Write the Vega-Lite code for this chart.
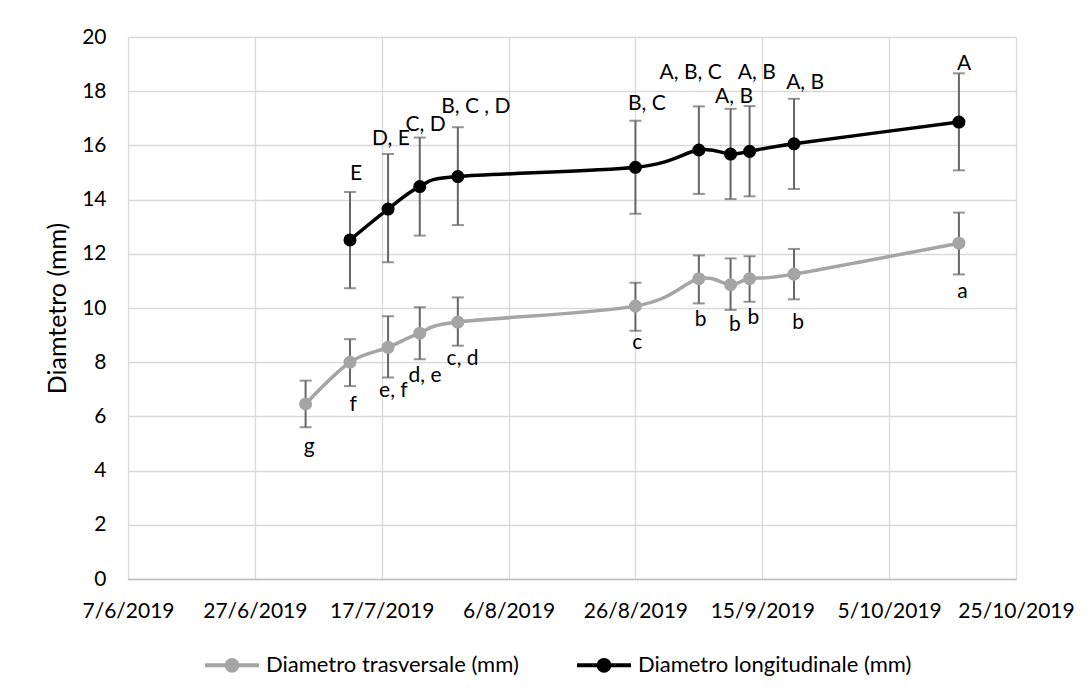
{
  "$schema": "https://vega.github.io/schema/vega-lite/v6.json",
  "width": 888,
  "height": 542,
  "autosize": {"type": "none"},
  "padding": {"left": 128, "top": 37, "right": 75, "bottom": 118},
  "background": "#ffffff",
  "config": {
    "font": "Lato",
    "view": {"stroke": null},
    "axis": {"labelFont": "Lato", "titleFont": "Lato", "labelColor": "#000000", "titleColor": "#000000"}
  },
  "data": {
    "values": [
      {"date": "2019-07-05T00:00", "series": "Diametro trasversale (mm)", "value": 6.46, "lo": 5.6, "hi": 7.32, "label": "g", "labelDate": "2019-07-05T14:00", "labelValue": 4.88},
      {"date": "2019-07-12T00:00", "series": "Diametro trasversale (mm)", "value": 8.0, "lo": 7.12, "hi": 8.85, "label": "f", "labelDate": "2019-07-12T12:00", "labelValue": 6.42},
      {"date": "2019-07-18T00:00", "series": "Diametro trasversale (mm)", "value": 8.55, "lo": 7.44, "hi": 9.7, "label": "e, f", "labelDate": "2019-07-18T20:00", "labelValue": 6.95},
      {"date": "2019-07-23T00:00", "series": "Diametro trasversale (mm)", "value": 9.07, "lo": 8.11, "hi": 10.03, "label": "d, e", "labelDate": "2019-07-23T20:00", "labelValue": 7.49},
      {"date": "2019-07-29T00:00", "series": "Diametro trasversale (mm)", "value": 9.48, "lo": 8.61, "hi": 10.39, "label": "c, d", "labelDate": "2019-07-29T18:00", "labelValue": 8.11},
      {"date": "2019-08-26T00:00", "series": "Diametro trasversale (mm)", "value": 10.07, "lo": 9.16, "hi": 10.93, "label": "c", "labelDate": "2019-08-26T07:00", "labelValue": 8.72},
      {"date": "2019-09-05T00:00", "series": "Diametro trasversale (mm)", "value": 11.08, "lo": 10.17, "hi": 11.94, "label": "b", "labelDate": "2019-09-05T07:00", "labelValue": 9.56},
      {"date": "2019-09-10T00:00", "series": "Diametro trasversale (mm)", "value": 10.86, "lo": 9.93, "hi": 11.83, "label": "b", "labelDate": "2019-09-10T16:00", "labelValue": 9.37},
      {"date": "2019-09-13T00:00", "series": "Diametro trasversale (mm)", "value": 11.08, "lo": 10.23, "hi": 11.91, "label": "b", "labelDate": "2019-09-13T14:00", "labelValue": 9.62},
      {"date": "2019-09-20T00:00", "series": "Diametro trasversale (mm)", "value": 11.25, "lo": 10.32, "hi": 12.18, "label": "b", "labelDate": "2019-09-20T16:00", "labelValue": 9.46},
      {"date": "2019-10-16T00:00", "series": "Diametro trasversale (mm)", "value": 12.39, "lo": 11.24, "hi": 13.52, "label": "a", "labelDate": "2019-10-16T13:00", "labelValue": 10.6},
      {"date": "2019-07-12T00:00", "series": "Diametro longitudinale (mm)", "value": 12.51, "lo": 10.73, "hi": 14.28, "label": "E", "labelDate": "2019-07-12T23:00", "labelValue": 14.94},
      {"date": "2019-07-18T00:00", "series": "Diametro longitudinale (mm)", "value": 13.65, "lo": 11.69, "hi": 15.68, "label": "D, E", "labelDate": "2019-07-18T11:00", "labelValue": 16.24},
      {"date": "2019-07-23T00:00", "series": "Diametro longitudinale (mm)", "value": 14.48, "lo": 12.67, "hi": 16.29, "label": "C, D", "labelDate": "2019-07-23T22:00", "labelValue": 16.75},
      {"date": "2019-07-29T00:00", "series": "Diametro longitudinale (mm)", "value": 14.85, "lo": 13.06, "hi": 16.67, "label": "B, C , D", "labelDate": "2019-07-31T20:00", "labelValue": 17.4},
      {"date": "2019-08-26T00:00", "series": "Diametro longitudinale (mm)", "value": 15.19, "lo": 13.48, "hi": 16.91, "label": "B, C", "labelDate": "2019-08-27T19:00", "labelValue": 17.53},
      {"date": "2019-09-05T00:00", "series": "Diametro longitudinale (mm)", "value": 15.83, "lo": 14.21, "hi": 17.44, "label": "A, B, C", "labelDate": "2019-09-03T17:00", "labelValue": 18.68},
      {"date": "2019-09-10T00:00", "series": "Diametro longitudinale (mm)", "value": 15.68, "lo": 14.02, "hi": 17.35, "label": "A, B", "labelDate": "2019-09-10T13:00", "labelValue": 17.77},
      {"date": "2019-09-13T00:00", "series": "Diametro longitudinale (mm)", "value": 15.78, "lo": 14.12, "hi": 17.45, "label": "A, B", "labelDate": "2019-09-14T03:00", "labelValue": 18.68},
      {"date": "2019-09-20T00:00", "series": "Diametro longitudinale (mm)", "value": 16.06, "lo": 14.39, "hi": 17.72, "label": "A, B", "labelDate": "2019-09-21T18:00", "labelValue": 18.31},
      {"date": "2019-10-16T00:00", "series": "Diametro longitudinale (mm)", "value": 16.86, "lo": 15.08, "hi": 18.66, "label": "A", "labelDate": "2019-10-16T20:00", "labelValue": 19.0}
    ]
  },
  "encoding": {
    "x": {
      "field": "date",
      "type": "temporal",
      "scale": {"domain": [{"year": 2019, "month": 6, "date": 7}, {"year": 2019, "month": 10, "date": 25}]},
      "axis": {
        "title": null,
        "values": [
          {"year": 2019, "month": 6, "date": 7},
          {"year": 2019, "month": 6, "date": 27},
          {"year": 2019, "month": 7, "date": 17},
          {"year": 2019, "month": 8, "date": 6},
          {"year": 2019, "month": 8, "date": 26},
          {"year": 2019, "month": 9, "date": 15},
          {"year": 2019, "month": 10, "date": 5},
          {"year": 2019, "month": 10, "date": 25}
        ],
        "format": "%-d/%-m/%Y",
        "labelFontSize": 21,
        "labelPadding": 21,
        "labelFlush": false,
        "labelOverlap": false,
        "ticks": false,
        "grid": true,
        "gridColor": "#d9d9d9",
        "gridWidth": 1.3,
        "domainColor": "#bfbfbf",
        "domainWidth": 1.5
      }
    }
  },
  "layer": [
    {
      "mark": {"type": "errorbar", "ticks": {"size": 12, "thickness": 2, "color": "#666666"}, "color": "#666666", "thickness": 2},
      "encoding": {
        "y": {"field": "lo", "type": "quantitative", "scale": {"domain": [0, 20]},
          "axis": {
            "title": "Diamtetro (mm)",
            "titleFontSize": 25,
            "titleFontWeight": "normal",
            "titleX": -58,
            "titleY": 271,
            "titleAngle": -90,
            "titleAlign": "center",
            "titleBaseline": "bottom",
            "values": [0, 2, 4, 6, 8, 10, 12, 14, 16, 18, 20],
            "labelFontSize": 21,
            "labelPadding": 22,
            "ticks": false,
            "domain": false,
            "grid": true,
            "gridColor": "#d9d9d9",
            "gridWidth": 1.3
          }
        },
        "y2": {"field": "hi"}
      }
    },
    {
      "mark": {"type": "line", "interpolate": "cardinal", "strokeWidth": 3.5},
      "encoding": {
        "y": {"field": "value", "type": "quantitative"},
        "color": {
          "field": "series",
          "type": "nominal",
          "sort": ["Diametro trasversale (mm)", "Diametro longitudinale (mm)"],
          "scale": {"domain": ["Diametro trasversale (mm)", "Diametro longitudinale (mm)"], "range": ["#a5a5a5", "#000000"]},
          "legend": {
            "title": null,
            "orient": "none",
            "legendX": 75,
            "legendY": 599,
            "padding": 0,
            "direction": "horizontal",
            "symbolType": "M-1,0L1,0M0.2,0A0.2,0.2,0,1,1,-0.2,0A0.2,0.2,0,1,1,0.2,0Z",
            "symbolSize": 2916,
            "symbolStrokeWidth": 4,
            "labelFont": "Lato",
            "labelFontSize": 22,
            "labelColor": "#000000",
            "labelOffset": 5,
            "columnPadding": 50,
            "labelLimit": 400,
            "encode": {
              "symbols": {
                "update": {
                  "fill": {"scale": "color", "field": "value"},
                  "stroke": {"scale": "color", "field": "value"},
                  "opacity": {"value": 1}
                }
              }
            }
          }
        }
      }
    },
    {
      "mark": {"type": "point", "filled": true, "size": 170, "opacity": 1},
      "encoding": {
        "y": {"field": "value", "type": "quantitative"},
        "color": {"field": "series", "type": "nominal"}
      }
    },
    {
      "mark": {"type": "text", "font": "Lato", "fontSize": 21, "color": "#000000", "baseline": "middle", "align": "center"},
      "encoding": {
        "x": {"field": "labelDate", "type": "temporal"},
        "y": {"field": "labelValue", "type": "quantitative"},
        "text": {"field": "label"}
      }
    }
  ]
}
